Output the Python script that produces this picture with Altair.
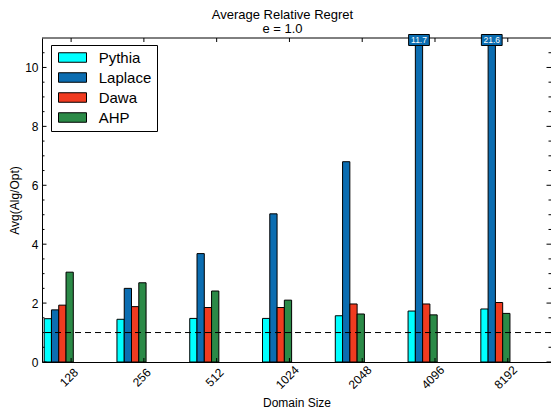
import altair as alt
import pandas as pd

FONT = "Liberation Sans"

# ---- data ----
sizes = ["128", "256", "512", "1024", "2048", "4096", "8192"]
algorithms = ["Pythia", "Laplace", "Dawa", "AHP"]
pythia = [1.47, 1.45, 1.48, 1.48, 1.57, 1.73, 1.80]
laplace = [1.77, 2.50, 3.68, 5.03, 6.80, 11.7, 21.6]
dawa = [1.93, 1.88, 1.85, 1.85, 1.97, 1.97, 2.02]
ahp = [3.05, 2.69, 2.41, 2.10, 1.63, 1.60, 1.65]
colors = ["#00FFFF", "#0B6DB1", "#F03B20", "#2B8A47"]
reference_level = [1.0]
y_major = [0, 2, 4, 6, 8, 10]
y_minor = [0.5, 1, 1.5, 2.5, 3, 3.5, 4.5, 5, 5.5, 6.5, 7, 7.5, 8.5, 9, 9.5, 10.5]
x_ticks = [0, 1, 2, 3, 4, 5, 6]

# ---- layout constants ----
W, H = 509, 324
Y_MAX = 11
BAR_W = 0.1
GROUP_START = -0.37

series = [pythia, laplace, dawa, ahp]
rows = []
for k, (alg, vals) in enumerate(zip(algorithms, series)):
    for i, v in enumerate(vals):
        x0 = i + GROUP_START + k * BAR_W
        rows.append(dict(alg=alg, size=sizes[i], value=v, base=0.0, shown=min(v, Y_MAX),
                         x0=x0, x1=x0 + BAR_W, xc=x0 + BAR_W / 2, label=f"{v:.1f}"))
df = pd.DataFrame(rows)
df_over = df[df["value"] > Y_MAX]

xs = alt.Scale(domain=[-0.4, 6.594], nice=False, zero=False)
ys = alt.Scale(domain=[0, Y_MAX], nice=False, zero=False)

label_expr = "[" + ",".join(f"'{s}'" for s in sizes) + "][datum.value]"
XT = "Domain Size"
YT = "Avg(Alg/Opt)"

bars = alt.Chart(df).mark_bar(stroke="black", strokeWidth=1, clip=True, opacity=1).encode(
    x=alt.X("x0:Q", scale=xs, title=XT,
            axis=alt.Axis(values=x_ticks, labelExpr=label_expr, labelAngle=315,
                          labelAlign="center", labelBaseline="middle", labelPadding=15,
                          labelOffset=-2.5, titlePadding=7, tickSize=0, ticks=False)),
    x2="x1:Q",
    y=alt.Y("value:Q", scale=ys, title=YT,
            axis=alt.Axis(values=y_major, labelPadding=4, titlePadding=3,
                          tickSize=0, ticks=False)),
    y2="base:Q",
    color=alt.Color("alg:N", scale=alt.Scale(domain=algorithms, range=colors),
                    legend=alt.Legend(title=None, orient="none", legendX=9, legendY=7,
                                      symbolType="M-2.8,-0.95H2.8V0.95H-2.8Z", symbolSize=100,
                                      symbolOffset=9,
                                      symbolStrokeColor="black", symbolStrokeWidth=1,
                                      symbolOpacity=1,
                                      labelFont=FONT, labelFontSize=15, labelColor="black",
                                      labelOffset=18.7, rowPadding=4, padding=5,
                                      strokeColor="black", fillColor="white",
                                      cornerRadius=0)),
)

ref = alt.Chart(pd.DataFrame({"y": reference_level})).mark_rule(
    color="black", strokeWidth=1, strokeDash=[6, 4]
).encode(y=alt.Y("y:Q", scale=ys, title=YT))

top_spine = alt.Chart(pd.DataFrame({"y": [Y_MAX]})).mark_rule(
    color="black", strokeWidth=1
).encode(y=alt.Y("y:Q", scale=ys, title=YT))

boxes = alt.Chart(df_over).mark_point(
    shape="M-1,-0.53H1V0.53H-1Z", size=430, filled=True, fill=colors[1],
    stroke="black", strokeWidth=1, opacity=1, yOffset=2
).encode(x=alt.X("xc:Q", scale=xs, title=XT), y=alt.Y("shown:Q", scale=ys, title=YT))

box_text = alt.Chart(df_over).mark_text(
    color="white", fontSize=8.5, font=FONT, align="center", baseline="middle", yOffset=2
).encode(x=alt.X("xc:Q", scale=xs, title=XT), y=alt.Y("shown:Q", scale=ys, title=YT),
         text="label:N")

def yticks(vals, x_a, x_b):
    return alt.Chart(pd.DataFrame({"v": vals})).mark_rule(color="black", strokeWidth=1).encode(
        y=alt.Y("v:Q", scale=ys, title=YT), x=alt.value(x_a), x2=alt.value(x_b))

def xticks(vals, y_a, y_b):
    return alt.Chart(pd.DataFrame({"v": vals})).mark_rule(color="black", strokeWidth=1).encode(
        x=alt.X("v:Q", scale=xs, title=XT), y=alt.value(y_a), y2=alt.value(y_b))

tick_layers = [
    yticks(y_major, 0, 4.5), yticks(y_minor, 0, 2.5),
    yticks(y_major, W, W - 4.5), yticks(y_minor, W, W - 2.5),
    xticks(x_ticks, 0, 4), xticks(x_ticks, H, H - 4),
]

chart = alt.layer(bars, ref, top_spine, *tick_layers, boxes, box_text).properties(
    width=W, height=H,
    padding={"left": 42, "top": 38, "right": 0, "bottom": 51},
    autosize=alt.AutoSizeParams(type="none"),
    title=alt.TitleParams(text=["Average Relative Regret", "e = 1.0"], fontSize=13,
                          fontWeight="normal", font=FONT, color="black", lineHeight=14,
                          dx=-14, dy=5.5, offset=2.5, anchor="middle", frame="group"),
).configure_view(stroke=None).configure_axis(
    domainColor="black", labelColor="black", titleColor="black", labelFont=FONT,
    titleFont=FONT, labelFontSize=12, titleFontSize=12, titleFontWeight="normal", grid=False
)

chart.save("out.html", embed_options={"renderer": "svg", "actions": False})
